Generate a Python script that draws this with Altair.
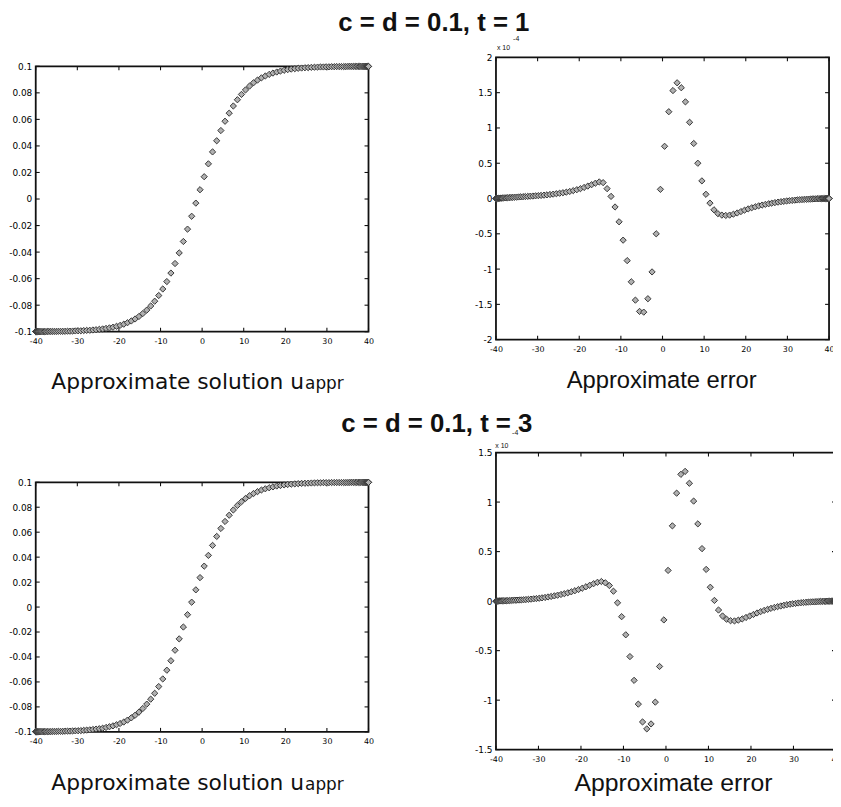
import altair as alt
import pandas as pd

# ---------------- data ----------------
X = [-40.00, -39.99, -39.95, -39.89, -39.80, -39.68, -39.55, -39.38, -39.19, -38.98,
     -38.74, -38.48, -38.19, -37.88, -37.55, -37.19, -36.81, -36.40, -35.98, -35.53,
     -35.05, -34.56, -34.04, -33.50, -32.94, -32.36, -31.76, -31.13, -30.49, -29.82,
     -29.16, -28.46, -27.75, -27.01, -26.26, -25.50, -24.71, -23.92, -23.10, -22.28,
     -21.43, -20.58, -19.71, -18.83, -17.94, -17.03, -16.12, -15.19, -14.26, -13.31,
     -12.36, -11.40, -10.43, -9.46, -8.48, -7.50, -6.51, -5.51, -4.51, -3.51,
     -2.51, -1.51, -0.50,
     0.50, 1.51, 2.51, 3.51, 4.51, 5.51, 6.51, 7.50, 8.48, 9.46,
     10.43, 11.40, 12.36, 13.31, 14.26, 15.19, 16.12, 17.03, 17.94, 18.83,
     19.71, 20.58, 21.43, 22.28, 23.10, 23.92, 24.71, 25.50, 26.26, 27.01,
     27.75, 28.46, 29.16, 29.82, 30.49, 31.13, 31.76, 32.36, 32.94, 33.50,
     34.04, 34.56, 35.05, 35.53, 35.98, 36.40, 36.81, 37.19, 37.55, 37.88,
     38.19, 38.48, 38.74, 38.98, 39.19, 39.38, 39.55, 39.68, 39.80, 39.89,
     39.95, 39.99, 40.00]

U_T1 = [-0.0999, -0.0999, -0.0999, -0.0999, -0.0999, -0.0999, -0.0999, -0.0999, -0.0999, -0.0999,
        -0.0999, -0.0999, -0.0999, -0.0999, -0.0999, -0.0998, -0.0998, -0.0998, -0.0998, -0.0998,
        -0.0998, -0.0997, -0.0997, -0.0997, -0.0997, -0.0996, -0.0996, -0.0995, -0.0994, -0.0993,
        -0.0993, -0.0991, -0.0990, -0.0989, -0.0987, -0.0985, -0.0982, -0.0979, -0.0975, -0.0971,
        -0.0966, -0.0959, -0.0952, -0.0943, -0.0932, -0.0919, -0.0904, -0.0885, -0.0863, -0.0837,
        -0.0806, -0.0770, -0.0727, -0.0678, -0.0622, -0.0558, -0.0486, -0.0406, -0.0320, -0.0227,
        -0.0130, -0.0031, 0.0070,
        0.0168, 0.0265, 0.0355, 0.0439, 0.0516, 0.0586, 0.0647, 0.0701, 0.0748, 0.0788,
        0.0822, 0.0851, 0.0876, 0.0896, 0.0913, 0.0927, 0.0939, 0.0949, 0.0957, 0.0964,
        0.0970, 0.0975, 0.0979, 0.0982, 0.0985, 0.0987, 0.0989, 0.0990, 0.0992, 0.0993,
        0.0994, 0.0995, 0.0995, 0.0996, 0.0996, 0.0997, 0.0997, 0.0998, 0.0998, 0.0998,
        0.0998, 0.0998, 0.0999, 0.0999, 0.0999, 0.0999, 0.0999, 0.0999, 0.0999, 0.0999,
        0.0999, 0.0999, 0.0999, 0.0999, 0.0999, 0.0999, 0.0999, 0.0999, 0.0999, 0.0999,
        0.0999, 0.0999, 0.0999]

E_T1 = [0.000, 0.000, 0.001, 0.001, 0.001, 0.002, 0.002, 0.003, 0.004, 0.005,
        0.006, 0.007, 0.008, 0.009, 0.010, 0.012, 0.013, 0.015, 0.016, 0.018,
        0.020, 0.022, 0.024, 0.026, 0.028, 0.030, 0.033, 0.035, 0.038, 0.041,
        0.044, 0.048, 0.052, 0.057, 0.062, 0.068, 0.075, 0.082, 0.090, 0.100,
        0.112, 0.125, 0.140, 0.157, 0.176, 0.196, 0.217, 0.235, 0.225, 0.140,
        0.030, -0.120, -0.330, -0.590, -0.880, -1.180, -1.440, -1.600, -1.610, -1.420,
        -1.040, -0.500, 0.130,
        0.740, 1.230, 1.530, 1.640, 1.570, 1.370, 1.080, 0.780, 0.500, 0.250,
        0.060, -0.065, -0.160, -0.215, -0.235, -0.240, -0.235, -0.222, -0.205, -0.185,
        -0.165, -0.147, -0.131, -0.117, -0.104, -0.093, -0.083, -0.074, -0.066, -0.058,
        -0.051, -0.045, -0.040, -0.035, -0.031, -0.027, -0.023, -0.020, -0.017, -0.015,
        -0.013, -0.011, -0.009, -0.008, -0.006, -0.005, -0.004, -0.003, -0.003, -0.002,
        -0.002, -0.001, -0.001, -0.001, 0.000, 0.000, 0.000, 0.000, 0.000, 0.000,
        0.000, 0.000, 0.000]

U_T3 = [-0.0999, -0.0999, -0.0999, -0.0999, -0.0999, -0.0999, -0.0999, -0.0999, -0.0999, -0.0998,
        -0.0998, -0.0998, -0.0998, -0.0998, -0.0998, -0.0998, -0.0998, -0.0998, -0.0997, -0.0997,
        -0.0997, -0.0996, -0.0996, -0.0996, -0.0995, -0.0994, -0.0994, -0.0993, -0.0992, -0.0991,
        -0.0990, -0.0988, -0.0986, -0.0984, -0.0981, -0.0978, -0.0975, -0.0971, -0.0965, -0.0959,
        -0.0952, -0.0943, -0.0933, -0.0921, -0.0906, -0.0888, -0.0867, -0.0842, -0.0813, -0.0778,
        -0.0738, -0.0691, -0.0637, -0.0576, -0.0506, -0.0430, -0.0346, -0.0255, -0.0160, -0.0061,
        0.0039, 0.0138, 0.0236,
        0.0328, 0.0414, 0.0494, 0.0566, 0.0630, 0.0686, 0.0736, 0.0778, 0.0814, 0.0844,
        0.0870, 0.0892, 0.0910, 0.0925, 0.0938, 0.0948, 0.0956, 0.0963, 0.0970, 0.0974,
        0.0979, 0.0982, 0.0985, 0.0987, 0.0989, 0.0991, 0.0992, 0.0993, 0.0994, 0.0995,
        0.0996, 0.0996, 0.0997, 0.0997, 0.0997, 0.0998, 0.0998, 0.0998, 0.0998, 0.0998,
        0.0998, 0.0998, 0.0998, 0.0999, 0.0999, 0.0999, 0.0999, 0.0999, 0.0999, 0.0999,
        0.0999, 0.0999, 0.0999, 0.0999, 0.0999, 0.0999, 0.0999, 0.0999, 0.0999, 0.0999,
        0.0999, 0.0999, 0.0999]

E_T3 = [0.000, 0.000, 0.000, 0.000, 0.001, 0.001, 0.001, 0.001, 0.002, 0.002,
        0.002, 0.003, 0.003, 0.004, 0.004, 0.005, 0.006, 0.007, 0.008, 0.009,
        0.010, 0.011, 0.012, 0.014, 0.016, 0.018, 0.020, 0.023, 0.026, 0.029,
        0.033, 0.037, 0.042, 0.047, 0.053, 0.060, 0.067, 0.075, 0.084, 0.094,
        0.105, 0.117, 0.130, 0.145, 0.160, 0.176, 0.190, 0.198, 0.185, 0.157,
        0.100, -0.017, -0.157, -0.340, -0.560, -0.800, -1.040, -1.220, -1.290, -1.240,
        -1.020, -0.660, -0.190,
        0.310, 0.760, 1.090, 1.280, 1.310, 1.190, 1.010, 0.780, 0.530, 0.320,
        0.140, 0.007, -0.090, -0.150, -0.183, -0.198, -0.200, -0.192, -0.180, -0.165,
        -0.150, -0.135, -0.120, -0.106, -0.094, -0.083, -0.073, -0.064, -0.056, -0.049,
        -0.042, -0.036, -0.031, -0.027, -0.023, -0.019, -0.016, -0.014, -0.012, -0.010,
        -0.008, -0.007, -0.006, -0.005, -0.004, -0.003, -0.003, -0.002, -0.002, -0.001,
        -0.001, -0.001, 0.000, 0.000, 0.000, 0.000, 0.000, 0.000, 0.000, 0.000,
        0.000, 0.000, 0.000]

X_TICKS = [-40, -30, -20, -10, 0, 10, 20, 30, 40]
U_TICKS = [-0.1, -0.08, -0.06, -0.04, -0.02, 0, 0.02, 0.04, 0.06, 0.08, 0.1]
E1_TICKS = [-2, -1.5, -1, -0.5, 0, 0.5, 1, 1.5, 2]
E3_TICKS = [-1.5, -1, -0.5, 0, 0.5, 1, 1.5]

TITLES = ["c = d = 0.1, t = 1", "c = d = 0.1, t = 3"]
CAP_U = "Approximate solution u"
CAP_U_SUB = "appr"
CAP_E = "Approximate error"
EXP_BASE = "x 10"
EXP_POW = "-4"

# ---------------- layout / style ----------------
W, H = 833, 798
FONT = "Liberation Sans"
FONT_W = "DejaVu Sans"
INK = "#111111"
TK = 4
LABEL_EXPR = "replace(format(datum.value, '~g'), '\u2212', '-')"
ONE = pd.DataFrame({"k": [0]})


def text(s, x, y, size, align="center", weight="normal", font=FONT):
    return alt.Chart(ONE).mark_text(
        text=s, font=font, fontSize=size, fontWeight=weight, align=align,
        baseline="alphabetic", color=INK
    ).encode(x=alt.value(x), y=alt.value(y))


def panel(yvals, ydom, yticks, L, R, T, B):
    df = pd.DataFrame({"x": X, "y": yvals})
    xs = alt.Scale(domain=[-40, 40], range=[L, R], nice=False, zero=False)
    ys = alt.Scale(domain=ydom, range=[B, T], nice=False, zero=False)
    xt = pd.DataFrame({"v": X_TICKS})
    yt = pd.DataFrame({"v": yticks})
    rule = dict(color=INK, strokeWidth=1.1)
    out = []
    out.append(alt.Chart(xt).mark_rule(**rule).encode(
        x=alt.X("v:Q", scale=xs, axis=None), y=alt.value(B), y2=alt.value(B - TK)))
    out.append(alt.Chart(xt).mark_rule(**rule).encode(
        x=alt.X("v:Q", scale=xs, axis=None), y=alt.value(T), y2=alt.value(T + TK)))
    out.append(alt.Chart(yt).mark_rule(**rule).encode(
        y=alt.Y("v:Q", scale=ys, axis=None), x=alt.value(L), x2=alt.value(L + TK)))
    out.append(alt.Chart(yt).mark_rule(**rule).encode(
        y=alt.Y("v:Q", scale=ys, axis=None), x=alt.value(R - TK), x2=alt.value(R)))
    out.append(alt.Chart(ONE).mark_rect(fillOpacity=0, stroke=INK, strokeWidth=1.8).encode(
        x=alt.value(L), x2=alt.value(R), y=alt.value(T), y2=alt.value(B)))
    out.append(alt.Chart(df).mark_point(
        shape="diamond", size=40, filled=True, fill="#b0b0b0", stroke="#383838",
        strokeWidth=1, opacity=1
    ).encode(
        x=alt.X("x:Q", scale=xs, axis=alt.Axis(
            orient="bottom", values=X_TICKS, offset=B - H, labelExpr=LABEL_EXPR,
            labelFont=FONT_W, labelFontSize=8, labelColor="#000", labelPadding=6,
            labelFlush=False, labelOverlap=False, domain=False, ticks=False,
            grid=False, title=None)),
        y=alt.Y("y:Q", scale=ys, axis=alt.Axis(
            orient="left", values=yticks, offset=-L, labelExpr=LABEL_EXPR,
            labelFont=FONT_W, labelFontSize=9, labelColor="#000", labelPadding=4,
            labelFlush=False, labelOverlap=False, domain=False, ticks=False,
            grid=False, title=None)),
    ))
    return out


layers = []
layers += panel(U_T1, [-0.1, 0.1], U_TICKS, 28, 364, 55, 323)
layers += panel(E_T1, [-2, 2], E1_TICKS, 492.7, 829, 46, 331)
layers += panel(U_T3, [-0.1, 0.1], U_TICKS, 28, 364, 475, 727)
layers += panel(E_T3, [-1.5, 1.5], E3_TICKS, 492.7, 836, 445, 745)

layers.append(text(TITLES[0], 430, 19, 26, weight="bold"))
layers.append(text(TITLES[1], 433, 424, 26, weight="bold"))
layers.append(text(CAP_U, 299, 381, 22, align="right", font=FONT_W))
layers.append(text(CAP_U_SUB, 300, 381, 17, align="left", font=FONT_W))
layers.append(text(CAP_U, 299, 786, 22, align="right", font=FONT_W))
layers.append(text(CAP_U_SUB, 300, 786, 17, align="left", font=FONT_W))
layers.append(text(CAP_E, 660, 380, 24))
layers.append(text(CAP_E, 672, 787, 25))
layers.append(text(EXP_BASE, 493.7, 39, 7, align="left"))
layers.append(text(EXP_POW, 510, 29, 7, align="left"))
layers.append(text(EXP_BASE, 492, 440, 7, align="left"))
layers.append(text(EXP_POW, 509, 427, 7, align="left"))

chart = alt.layer(*layers).resolve_scale(
    x="independent", y="independent"
).properties(
    width=W, height=H, padding=0, autosize=alt.AutoSizeParams(type="none")
).configure_view(strokeWidth=0)

chart.save("out.html", embed_options={"renderer": "svg", "actions": False})
